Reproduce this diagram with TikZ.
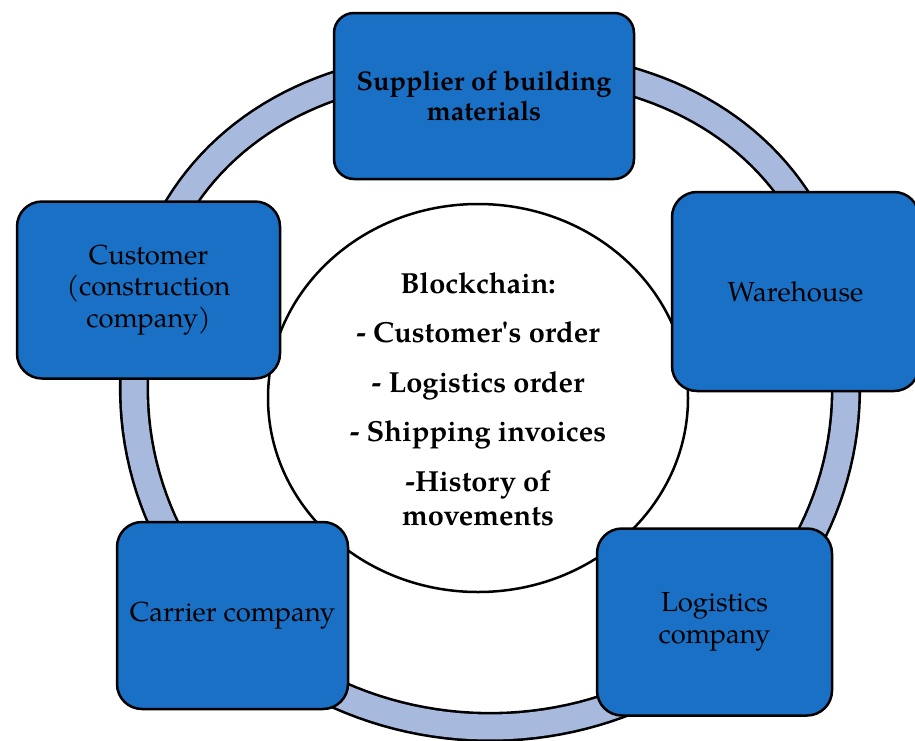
\documentclass[tikz,border=0pt]{standalone}
\usepackage{fontspec}
\setmainfont{TeX Gyre Pagella}
\usetikzlibrary{shapes.geometric}
\definecolor{boxblue}{RGB}{25,112,196}
\definecolor{ringblue}{RGB}{168,185,222}
\begin{document}
\begin{tikzpicture}[x=1pt,y=-1pt,
  declare function={ex(\t)=(sin(\t)>0)*0.8696+(sin(\t)<=0)*1;
                    ry(\t)=(sin(\t)>0)*325+(sin(\t)<=0)*338;},
  stagebox/.style={draw=black, line width=2.5pt, fill=boxblue, rounded corners=25pt,
    align=center, inner sep=0pt, font=\fontsize{27.5}{31.5}\selectfont},
  ringline/.style={draw=black, line width=2.6pt, double=ringblue, double distance=25pt},
  hub/.style={draw=black, line width=2.5pt, fill=white, ellipse, inner sep=0pt},
  hubtext/.style={align=center, inner sep=0pt, font=\bfseries\fontsize{29}{34}\selectfont}
]
\useasboundingbox (0,0) rectangle (915,740);
% ring
\draw[ringline] plot[domain=1:359, samples=180]
  ({490+356*cos(\x)*pow(abs(cos(\x)),ex(\x)-1)},
   {389-ry(\x)*sin(\x)*pow(abs(sin(\x)),ex(\x)-1)}) -- cycle;
% central ledger
\node[hub, minimum width=420pt, minimum height=388pt] (chain) at (478,398) {};
\node[hubtext] (ledger) at (478,399)
  {Blockchain:\\[15.5pt]
   - Customer\textquotesingle s order\\[15.5pt]
   - Logistics order\\[15.5pt]
   - Shipping invoices\\[15.5pt]
   -History of\\ movements};
% participants
\node[stagebox, rounded corners=20pt, minimum width=300pt, minimum height=166pt,
  font=\bfseries\fontsize{27}{30}\selectfont] (supplier) at (484,96)
  {Supplier of building\\ materials};
\node[stagebox, minimum width=263pt, minimum height=177pt] (customer) at (148.5,290)
  {Customer\\ (construction\\ company)};
\node[stagebox, minimum width=247pt, minimum height=199pt] (warehouse) at (795.5,291.5)
  {Warehouse};
\node[stagebox, minimum width=231pt, minimum height=187pt] (carrier) at (232.5,615.5)
  {Carrier company};
\node[stagebox, minimum width=235pt, minimum height=187pt] (logistics) at (714.5,622)
  {Logistics\\ company};
\end{tikzpicture}
\end{document}
